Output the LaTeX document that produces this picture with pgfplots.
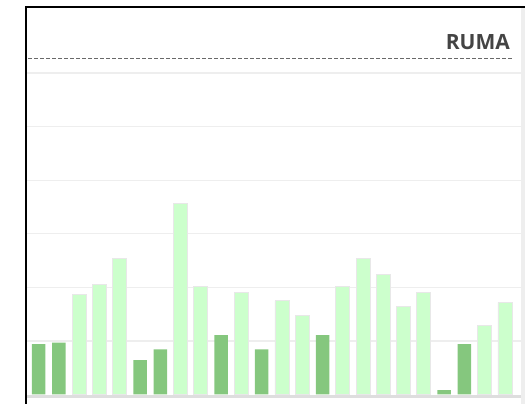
\documentclass[border=0pt]{standalone}
\usepackage{pgfplots}
\pgfplotsset{compat=1.18}
\usepackage{fontspec}
\setmainfont{Open Sans}

\definecolor{darkg}{RGB}{133,199,126}
\definecolor{lightg}{RGB}{204,255,204}
\definecolor{barline}{RGB}{232,232,232}
\definecolor{gridc}{RGB}{238,238,238}
\definecolor{basec}{RGB}{222,222,222}
\definecolor{titlec}{RGB}{68,68,68}
\definecolor{dashc}{RGB}{105,105,105}

\begin{document}
\begin{tikzpicture}[x=1pt,y=1pt]
\useasboundingbox (0,0) rectangle (525,404);
% light band on the right
\fill[gridc] (521,0) rectangle (525,397);

\begin{axis}[
    at={(27pt,9.5pt)}, anchor=south west,
    scale only axis, width=494pt, height=321.5pt,
    xmin=-0.577, xmax=23.79, ymin=0, ymax=6,
    axis line style={draw=none},
    tick style={draw=none},
    xtick=\empty, ytick={1,2,3,4,5,6},
    yticklabels={},
    ymajorgrids, grid style={gridc, line width=1.3pt},
    clip=false,
]
% darker bars
\addplot[ybar, bar width=13.5pt, fill=darkg, draw=none] coordinates {
    (0,0.94) (1,0.97) (5,0.64) (6,0.84) (9,1.11) (11,0.84)
    (14,1.11) (20,0.08) (21,0.94)
};
% lighter bars
\addplot[ybar, bar width=14pt, fill=lightg, draw=barline, line width=0.9pt] coordinates {
    (2,1.86) (3,2.05) (4,2.54) (7,3.56) (8,2.02) (10,1.91)
    (12,1.75) (13,1.48) (15,2.02) (16,2.54) (17,2.24) (18,1.65)
    (19,1.91) (22,1.29) (23,1.72)
};
\draw[basec, line width=2.5pt] (axis cs:-0.577,-0.037) -- (axis cs:23.79,-0.037);
\end{axis}

% title and dashed rule
\node[anchor=base east, inner sep=0pt, text=titlec,
      font=\bfseries\fontsize{21}{24}\selectfont] at (510,354.7) {RUMA};
\draw[dashc, line width=1.4pt, dash pattern=on 4pt off 2pt] (28,345.7) -- (513,345.7);

% black frame on left and top
\draw[black, line width=2.5pt] (26,0) -- (26,397) -- (525,397);
\end{tikzpicture}
\end{document}
